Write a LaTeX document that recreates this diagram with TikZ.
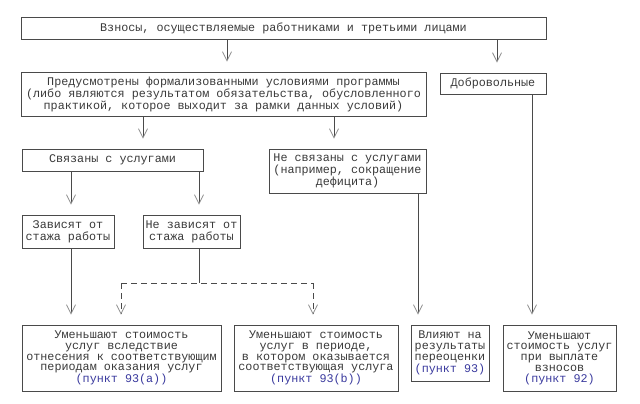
\documentclass[tikz,border=0pt]{standalone}
\usepackage{fontspec}
\newfontfamily\mono{Liberation Mono}
\usetikzlibrary{arrows.meta}
\definecolor{trait}{HTML}{4A4A4A}
\definecolor{texte}{HTML}{3A3A3A}
\definecolor{renvoi}{HTML}{3A3A9E}
\definecolor{pointe}{HTML}{8C8C8C}
\tikzset{
  boite/.style={draw=trait, line width=0.9pt, rectangle, align=center,
    inner xsep=1pt, inner ysep=1pt, text=texte,
    font=\mono\fontsize{11.75}{12}\selectfont},
  bas/.style={boite, font=\mono\fontsize{11.75}{10.8}\selectfont},
  fleche/.style={draw=trait, line width=0.9pt,
    -{Straight Barb[length=9pt,width=9pt,color=pointe,line width=0.8pt]},
    shorten >=10pt},
  tirets/.style={draw=trait, line width=0.9pt, dash pattern=on 6pt off 4pt},
}
\newcommand{\pkt}[1]{\textcolor{renvoi}{#1}}
\begin{document}
\begin{tikzpicture}[x=1pt,y=-1pt]
    \fill[white] (0,0) rectangle (640,404);
    \useasboundingbox (0,0) rectangle (640,404);

    % Niveau 1
    \node[boite, minimum width=525, minimum height=22] (vznosy) at (283.5,28)
        {Взносы, осуществляемые работниками и третьими лицами};

    % Niveau 2
    \node[boite, minimum width=405, minimum height=44] (prog) at (223.5,94)
        {Предусмотрены формализованными условиями программы\\
         (либо являются результатом обязательства, обусловленного\\
         практикой, которое выходит за рамки данных условий)};
    \node[boite, minimum width=106, minimum height=21] (dobr) at (493,83.5)
        {Добровольные};

    % Niveau 3
    \node[boite, minimum width=181, minimum height=22] (svyaz) at (112.5,160)
        {Связаны с услугами};
    \node[boite, minimum width=157, minimum height=44] (nesvyaz) at (347.5,171)
        {Не связаны с услугами\\(например, сокращение\\дефицита)};

    % Niveau 4
    \node[boite, minimum width=92, minimum height=33] (zavis) at (68,231.5)
        {Зависят от\\стажа работы};
    \node[boite, minimum width=97, minimum height=33] (nezavis) at (191.5,231.5)
        {Не зависят от\\стажа работы};

    % Niveau 5 : effets
    \node[bas, minimum width=199, minimum height=66] (umenA) at (121.5,358)
        {Уменьшают стоимость\\услуг вследствие\\отнесения к соответствующим\\
         периодам оказания услуг\\\pkt{(пункт 93(a))}};
    \node[bas, minimum width=164, minimum height=66] (umenB) at (316,358)
        {Уменьшают стоимость\\услуг в периоде,\\в котором оказывается\\
         соответствующая услуга\\\pkt{(пункт 93(b))}};
    \node[bas, minimum width=78, minimum height=56] (vliyan) at (450,353)
        {Влияют на\\результаты\\переоценки\\\pkt{(пункт 93)}};
    \node[bas, minimum width=113, minimum height=66] (umenD) at (559.5,358)
        {Уменьшают\\стоимость услуг\\при выплате\\взносов\\\pkt{(пункт 92)}};

    % Fleches
    \draw[fleche] (vznosy.south -| 227,0) -- (prog.north -| 227,0);
    \draw[fleche] (vznosy.south -| 497,0) -- (dobr.north -| 497,0);
    \draw[fleche] (prog.south -| 143,0) -- (svyaz.north -| 143,0);
    \draw[fleche] (prog.south -| 334,0) -- (nesvyaz.north -| 334,0);
    \draw[fleche] (svyaz.south -| 71,0) -- (zavis.north -| 71,0);
    \draw[fleche] (svyaz.south -| 199,0) -- (nezavis.north -| 199,0);
    \draw[fleche] (zavis.south -| 71,0) -- (umenA.north -| 71,0);
    \draw[fleche] (nesvyaz.south -| 418,0) -- (vliyan.north -| 418,0);
    \draw[fleche] (dobr.south -| 532,0) -- (umenD.north -| 532,0);

    % Branche en tirets
    \coordinate (raz) at (199,283);
    \draw[draw=trait, line width=0.9pt] (nezavis.south -| raz) -- (raz);
    \draw[tirets] (raz -| 121,0) -- (raz -| 313,0);
    \draw[fleche, tirets] (raz -| 121,0) -- (umenA.north -| 121,0);
    \draw[fleche, tirets] (raz -| 313,0) -- (umenB.north -| 313,0);
\end{tikzpicture}
\end{document}
